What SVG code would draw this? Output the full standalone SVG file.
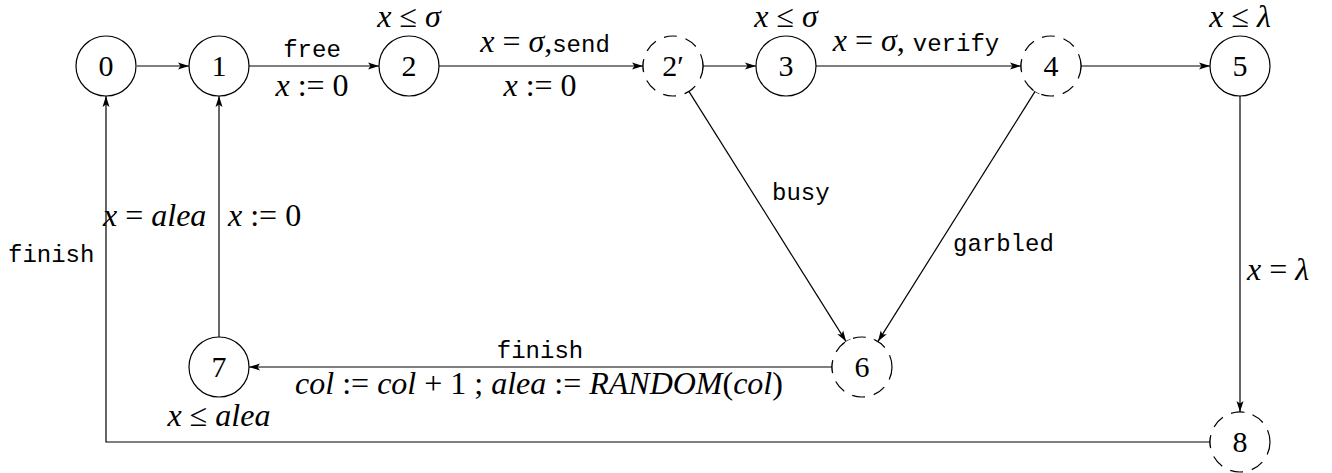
<svg xmlns="http://www.w3.org/2000/svg" width="1332" height="473" viewBox="0 0 1332 473">
<style>
  .nd { fill: #fff; stroke: #000; stroke-width: 1.2; }
  .ds { stroke-dasharray: 13 9; }
  .e { fill: none; stroke: #000; stroke-width: 1.2; }
  .arc { fill: none; stroke: #000; stroke-width: 1.2; }
  .nl { font-family: "Liberation Serif", serif; font-size: 30px; text-anchor: middle; fill: #000; }
  .m { font-family: "Liberation Serif", serif; font-size: 32px; fill: #000; }
  .i { font-style: italic; }
  .tt { font-family: "Liberation Mono", monospace; font-size: 24px; font-style: normal; fill: #000; }
</style>
<defs>
  <marker id="ah" markerWidth="12" markerHeight="8" refX="11" refY="4" orient="auto" markerUnits="userSpaceOnUse">
    <path d="M0,0.5 L11,4 L0,7.5 L2.5,4 Z" fill="#000"/>
  </marker>
</defs>
<rect width="1332" height="473" fill="#fff"/>

<g id="connectors">
  <line class="e" x1="137" y1="66" x2="189" y2="66" marker-end="url(#ah)"/>
  <line class="e" x1="249" y1="66" x2="379" y2="66" marker-end="url(#ah)"/>
  <line class="e" x1="439" y1="66" x2="643" y2="66" marker-end="url(#ah)"/>
  <line class="e" x1="703" y1="66" x2="756" y2="66" marker-end="url(#ah)"/>
  <line class="e" x1="816" y1="66" x2="1021" y2="66" marker-end="url(#ah)"/>
  <line class="e" x1="1081" y1="66" x2="1210" y2="66" marker-end="url(#ah)"/>
  <line class="e" x1="1240" y1="96" x2="1240" y2="412" marker-end="url(#ah)"/>
  <line class="e" x1="688.9" y1="91.4" x2="846.1" y2="341.6" marker-end="url(#ah)"/>
  <line class="e" x1="1035.1" y1="91.4" x2="877.9" y2="341.6" marker-end="url(#ah)"/>
  <line class="e" x1="832" y1="367" x2="249" y2="367" marker-end="url(#ah)"/>
  <line class="e" x1="219" y1="337" x2="219" y2="96" marker-end="url(#ah)"/>
  <path class="e" d="M1210,442 H106 V96" marker-end="url(#ah)"/>
  <path class="arc" d="M643.5,60.8 A30,30 0 0 0 643.5,71.2"/>
  <path class="arc" d="M702.5,60.8 A30,30 0 0 1 702.5,71.2"/>
  <path class="arc" d="M693.1,88.3 A30,30 0 0 1 684.2,93.8"/>
  <path class="arc" d="M1021.5,60.8 A30,30 0 0 0 1021.5,71.2"/>
  <path class="arc" d="M1080.5,60.8 A30,30 0 0 1 1080.5,71.2"/>
  <path class="arc" d="M1039.8,93.8 A30,30 0 0 1 1030.9,88.3"/>
  <path class="arc" d="M841.9,344.7 A30,30 0 0 1 850.7,339.2"/>
  <path class="arc" d="M873.3,339.2 A30,30 0 0 1 882.1,344.7"/>
  <path class="arc" d="M832.5,361.8 A30,30 0 0 0 832.5,372.2"/>
  <path class="arc" d="M1234.8,412.5 A30,30 0 0 1 1245.2,412.5"/>
  <path class="arc" d="M1210.5,436.8 A30,30 0 0 0 1210.5,447.2"/>
</g>

<g id="edge-labels">
  <text class="tt" x="312" y="57" text-anchor="middle">free</text>
  <text class="m" x="312" y="96" text-anchor="middle"><tspan class="i">x</tspan> := 0</text>
  <text class="m" x="545" y="52" text-anchor="middle"><tspan class="i">x</tspan> = <tspan class="i">σ</tspan>,<tspan class="tt">send</tspan></text>
  <text class="m" x="540" y="96" text-anchor="middle"><tspan class="i">x</tspan> := 0</text>
  <text class="m" x="916" y="51" text-anchor="middle"><tspan class="i">x</tspan> = <tspan class="i">σ</tspan>, <tspan class="tt">verify</tspan></text>
  <text class="tt" x="772" y="200">busy</text>
  <text class="tt" x="953" y="251">garbled</text>
  <text class="m" x="1247" y="280"><tspan class="i">x</tspan> = <tspan class="i">λ</tspan></text>
  <text class="tt" x="8" y="262">finish</text>
  <text class="m" x="103" y="226"><tspan class="i">x</tspan> = <tspan class="i">alea</tspan></text>
  <text class="m" x="228" y="226"><tspan class="i">x</tspan> := 0</text>
  <text class="tt" x="540" y="358" text-anchor="middle">finish</text>
  <text class="m" x="539" y="394" text-anchor="middle"><tspan class="i">col</tspan> := <tspan class="i">col</tspan> + 1 ; <tspan class="i">alea</tspan> := <tspan class="i">RANDOM</tspan>(<tspan class="i">col</tspan>)</text>
</g>

<g id="invariants">
  <text class="m" x="409" y="27" text-anchor="middle"><tspan class="i">x</tspan> ≤ <tspan class="i">σ</tspan></text>
  <text class="m" x="786" y="27" text-anchor="middle"><tspan class="i">x</tspan> ≤ <tspan class="i">σ</tspan></text>
  <text class="m" x="1240" y="27" text-anchor="middle"><tspan class="i">x</tspan> ≤ <tspan class="i">λ</tspan></text>
  <text class="m" x="219" y="426" text-anchor="middle"><tspan class="i">x</tspan> ≤ <tspan class="i">alea</tspan></text>
</g>

<g id="node-0"><circle class="nd" cx="106" cy="66" r="30"/><text class="nl" x="106" y="76">0</text></g>
<g id="node-1"><circle class="nd" cx="219" cy="66" r="30"/><text class="nl" x="219" y="76">1</text></g>
<g id="node-2"><circle class="nd" cx="409" cy="66" r="30"/><text class="nl" x="409" y="76">2</text></g>
<g id="node-2p"><circle class="nd ds" cx="673" cy="66" r="30"/><text class="nl" x="673" y="76">2′</text></g>
<g id="node-3"><circle class="nd" cx="786" cy="66" r="30"/><text class="nl" x="786" y="76">3</text></g>
<g id="node-4"><circle class="nd ds" cx="1051" cy="66" r="30"/><text class="nl" x="1051" y="76">4</text></g>
<g id="node-5"><circle class="nd" cx="1240" cy="66" r="30"/><text class="nl" x="1240" y="76">5</text></g>
<g id="node-6"><circle class="nd ds" cx="862" cy="367" r="30"/><text class="nl" x="862" y="377">6</text></g>
<g id="node-7"><circle class="nd" cx="219" cy="367" r="30"/><text class="nl" x="219" y="377">7</text></g>
<g id="node-8"><circle class="nd ds" cx="1240" cy="442" r="30"/><text class="nl" x="1240" y="452">8</text></g>
</svg>
